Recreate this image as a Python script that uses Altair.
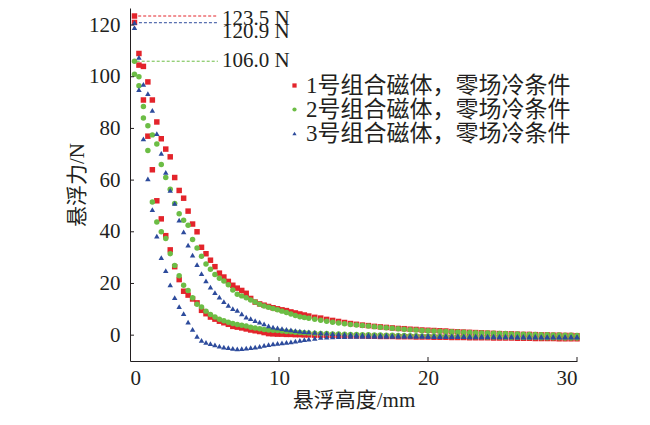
import altair as alt
import pandas as pd

# ---------------- data ----------------
heights = [0.3, 0.6, 0.9, 1.2, 1.5, 1.8, 2.1, 2.4, 2.7, 3.0,
           3.3, 3.6, 3.9, 4.2, 4.5, 4.8, 5.1, 5.4, 5.7, 6.0,
           6.3, 6.6, 6.9, 7.2, 7.5, 7.8, 8.1, 8.4, 8.7, 9.0,
           9.3, 9.6, 9.9, 10.2, 10.5, 10.8, 11.1, 11.4, 11.7, 12.0,
           12.4, 12.8, 13.2, 13.6, 14.0, 14.4, 14.8, 15.2, 15.6, 16.0,
           16.4, 16.8, 17.2, 17.6, 18.0, 18.4, 18.8, 19.2, 19.6, 20.0,
           20.4, 20.8, 21.2, 21.6, 22.0, 22.4, 22.8, 23.2, 23.6, 24.0,
           24.4, 24.8, 25.2, 25.6, 26.0, 26.4, 26.8, 27.2, 27.6, 28.0,
           28.4, 28.8, 29.2, 29.6, 30.0]

red_approach = [123.5, 109.0, 104.0, 98.0, 91.0, 82.5, 76.0, 72.0, 69.0, 61.0,
                56.0, 53.0, 48.0, 43.0, 40.0, 34.0, 31.5, 29.0, 26.5, 24.0,
                22.5, 20.8, 19.3, 18.2, 17.3, 16.2, 14.2, 12.8, 12.1, 11.6,
                11.1, 10.6, 10.2, 9.8, 9.5, 9.0, 8.6, 8.2, 7.8, 7.4,
                6.9, 6.6, 6.1, 5.7, 5.3, 4.9, 4.5, 4.2, 3.9, 3.7,
                3.4, 3.2, 3.0, 2.8, 2.6, 2.5, 2.3, 2.2, 2.0, 1.9,
                1.8, 1.7, 1.6, 1.4, 1.3, 1.2, 1.1, 1.0, 0.9, 0.8,
                0.7, 0.6, 0.5, 0.5, 0.4, 0.3, 0.3, 0.2, 0.1, 0.1,
                0.0, 0.0, -0.1, -0.1, -0.2]
red_retreat = [121.0, 104.5, 91.0, 77.0, 64.0, 52.0, 45.0, 38.5, 33.0, 26.5,
               21.5, 17.0, 15.5, 14.0, 12.5, 9.6, 8.3, 7.0, 6.2, 5.4,
               4.8, 4.2, 3.4, 3.1, 2.8, 2.4, 2.0, 1.7, 1.4, 1.0,
               0.6, 0.5, 0.4, 0.4, 0.3, 0.3, 0.2, 0.2, 0.1, 0.1,
               0.0, 0.0, -0.1, -0.1, -0.2, -0.2, -0.3, -0.3, -0.3, -0.4,
               -0.4, -0.5, -0.5, -0.5, -0.6, -0.6, -0.6, -0.7, -0.7, -0.7,
               -0.8, -0.8, -0.8, -0.9, -0.9, -0.9, -1.0, -1.0, -1.0, -1.0,
               -1.1, -1.1, -1.1, -1.1, -1.2, -1.2, -1.2, -1.3, -1.3, -1.3,
               -1.3, -1.4, -1.4, -1.4, -1.4]
green_approach = [106.0, 100.0, 88.5, 81.0, 77.5, 74.0, 66.0, 61.0, 56.5, 51.0,
                  47.0, 44.5, 42.5, 37.0, 33.7, 30.5, 27.5, 25.5, 23.5, 22.0,
                  21.0, 19.5, 17.5, 15.8, 15.2, 14.5, 13.6, 12.8, 12.0, 11.3,
                  10.8, 10.3, 9.8, 9.3, 8.8, 8.2, 7.6, 7.1, 6.8, 6.5,
                  6.2, 5.8, 5.4, 5.0, 4.7, 4.4, 4.1, 3.9, 3.7, 3.5,
                  3.3, 3.1, 2.9, 2.7, 2.5, 2.3, 2.1, 2.0, 1.8, 1.7,
                  1.6, 1.5, 1.4, 1.3, 1.2, 1.1, 1.0, 0.9, 0.8, 0.8,
                  0.7, 0.6, 0.6, 0.5, 0.5, 0.4, 0.3, 0.3, 0.2, 0.2,
                  0.1, 0.1, 0.0, 0.0, -0.1]
green_retreat = [101.0, 96.5, 84.0, 71.5, 51.5, 43.8, 40.0, 37.4, 31.5, 27.0,
                 23.0, 19.3, 17.3, 14.5, 12.0, 10.9, 9.3, 8.0, 7.0, 6.2,
                 5.6, 5.0, 4.5, 4.1, 3.8, 3.5, 3.1, 2.8, 2.5, 2.2,
                 2.0, 1.9, 1.8, 1.6, 1.4, 1.3, 1.1, 1.0, 0.9, 0.8,
                 0.7, 0.6, 0.6, 0.5, 0.5, 0.4, 0.3, 0.3, 0.2, 0.2,
                 0.1, 0.1, 0.0, 0.0, -0.1, -0.1, -0.2, -0.2, -0.3, -0.3,
                 -0.3, -0.4, -0.4, -0.5, -0.5, -0.5, -0.6, -0.6, -0.6, -0.7,
                 -0.7, -0.7, -0.8, -0.8, -0.8, -0.9, -0.9, -0.9, -1.0, -1.0,
                 -1.0, -1.0, -1.1, -1.1, -1.1]
blue_approach = [120.9, 107.5, 97.0, 93.5, 87.0, 78.0, 70.3, 63.0, 56.0, 51.0,
                 44.5, 40.0, 34.8, 31.0, 27.3, 23.8, 21.0, 18.6, 16.5, 14.7,
                 13.0, 11.5, 10.3, 9.6, 8.2, 7.0, 6.4, 5.6, 5.0, 4.4,
                 3.6, 3.1, 2.8, 2.5, 2.2, 2.0, 1.8, 1.6, 1.4, 1.3,
                 1.1, 0.9, 0.8, 0.6, 0.5, 0.4, 0.3, 0.2, 0.1, 0.1,
                 0.0, 0.0, 0.0, -0.1, -0.1, -0.1, -0.2, -0.2, -0.2, -0.2,
                 -0.3, -0.3, -0.3, -0.3, -0.3, -0.4, -0.4, -0.4, -0.4, -0.4,
                 -0.4, -0.5, -0.5, -0.5, -0.5, -0.5, -0.5, -0.5, -0.6, -0.6,
                 -0.6, -0.6, -0.6, -0.6, -0.6]
blue_retreat = [119.0, 95.0, 76.0, 60.5, 48.6, 38.3, 30.0, 25.0, 19.5, 14.5,
                11.0, 8.3, 5.0, 2.2, -0.5, -2.0, -2.8, -3.3, -3.8, -4.2,
                -4.6, -4.8, -5.1, -5.3, -5.2, -5.0, -4.8, -4.6, -4.3, -4.0,
                -3.7, -3.4, -3.2, -3.0, -2.8, -2.6, -2.3, -2.0, -1.7, -1.5,
                -1.2, -0.9, -0.8, -0.7, -0.6, -0.6, -0.5, -0.5, -0.5, -0.5,
                -0.5, -0.5, -0.5, -0.5, -0.5, -0.5, -0.5, -0.5, -0.5, -0.6,
                -0.6, -0.6, -0.6, -0.6, -0.6, -0.6, -0.7, -0.7, -0.7, -0.7,
                -0.7, -0.7, -0.7, -0.7, -0.8, -0.8, -0.8, -0.8, -0.8, -0.8,
                -0.8, -0.8, -0.8, -0.8, -0.8]

series_names = ["1号组合磁体，零场冷条件", "2号组合磁体，零场冷条件", "3号组合磁体，零场冷条件"]
series_colors = ["#e3242b", "#6cbd45", "#2d4b9c"]
series_shapes = ["square", "circle", "triangle-up"]

peak_values = [123.5, 120.9, 106.0]
peak_labels = ["123.5 N", "120.9 N", "106.0 N"]
peak_colors = ["#e3242b", "#2d4b9c", "#6cbd45"]
peak_start = [0.55, 0.6, 0.45]
peak_end = 5.9
peak_dy = [3, 9, 0]

x_ticks = [0, 10, 20, 30]
y_ticks = [0, 20, 40, 60, 80, 100, 120]

# ---------------- build tables ----------------
rows = []
branches = [(series_names[0], red_approach), (series_names[0], red_retreat),
            (series_names[1], green_approach), (series_names[1], green_retreat),
            (series_names[2], blue_approach), (series_names[2], blue_retreat)]
for name, vals in branches:
    for h, v in zip(heights, vals):
        rows.append({"h": h, "f": v, "series": name})
df = pd.DataFrame(rows)

SERIF = "Liberation Serif, Noto Sans CJK SC, serif"
INK = "#231f20"
W, H = 447, 353

xscale = alt.Scale(domain=[0, 30], nice=False)
yscale = alt.Scale(domain=[-10, 126.6], nice=False)

legend = alt.Legend(title=None, orient="none", legendX=153, legendY=66,
                    symbolSize=18, labelFontSize=23, labelFont=SERIF,
                    labelOffset=0, rowPadding=0, padding=0,
                    labelColor=INK, labelLimit=400)

points = alt.Chart(df).mark_point(filled=True, size=30, opacity=1).encode(
    x=alt.X("h:Q", scale=xscale,
            axis=alt.Axis(values=x_ticks, title="悬浮高度/mm")),
    y=alt.Y("f:Q", scale=yscale,
            axis=alt.Axis(values=y_ticks, title="悬浮力/N")),
    color=alt.Color("series:N", scale=alt.Scale(domain=series_names, range=series_colors),
                    legend=legend),
    shape=alt.Shape("series:N", scale=alt.Scale(domain=series_names, range=series_shapes),
                    legend=legend),
)

layers = [points]

for v, lab, x0, dy, col in zip(peak_values, peak_labels, peak_start, peak_dy, peak_colors):
    pdf = pd.DataFrame({"x0": [x0], "x1": [peak_end], "y": [v], "label": [lab]})
    line = alt.Chart(pdf).mark_rule(color=col, strokeWidth=1, strokeDash=[3, 2]).encode(
        x=alt.X("x0:Q", scale=xscale),
        x2="x1:Q",
        y=alt.Y("y:Q", scale=yscale),
    )
    txt = alt.Chart(pdf).mark_text(align="left", baseline="middle", dx=4, dy=dy,
                                   font=SERIF, fontSize=21, color=INK).encode(
        x=alt.X("x1:Q", scale=xscale),
        y=alt.Y("y:Q", scale=yscale),
        text="label:N",
    )
    layers += [line, txt]

xt = alt.Chart(pd.DataFrame({"t": x_ticks[1:]})).mark_rule(color=INK, strokeWidth=1).encode(
    x=alt.X("t:Q", scale=xscale),
    y=alt.value(H), y2=alt.value(H - 4),
)
yt = alt.Chart(pd.DataFrame({"t": y_ticks})).mark_rule(color=INK, strokeWidth=1).encode(
    y=alt.Y("t:Q", scale=yscale),
    x=alt.value(0), x2=alt.value(4),
)
layers += [xt, yt]

chart = alt.layer(*layers).properties(
    width=W, height=H,
    autosize=alt.AutoSizeParams(type="none"),
    padding={"left": 122, "top": 0, "right": 65, "bottom": 49},
).configure_view(stroke=None).configure_axis(
    grid=False, ticks=False, tickSize=0, domainWidth=1, domainColor=INK,
    labelFont=SERIF, labelFontSize=21, labelColor=INK,
    titleFont=SERIF, titleFontSize=21, titleFontWeight="normal", titleColor=INK,
).configure_axisX(
    labelPadding=6, titleX=W / 2, titleY=39, titleBaseline="middle",
).configure_axisY(
    labelPadding=10, titleX=-53, titleY=H / 2, titleAngle=270,
    titleBaseline="middle", titleAlign="center",
)

chart.save("out.html", embed_options={"renderer": "svg", "actions": False})
